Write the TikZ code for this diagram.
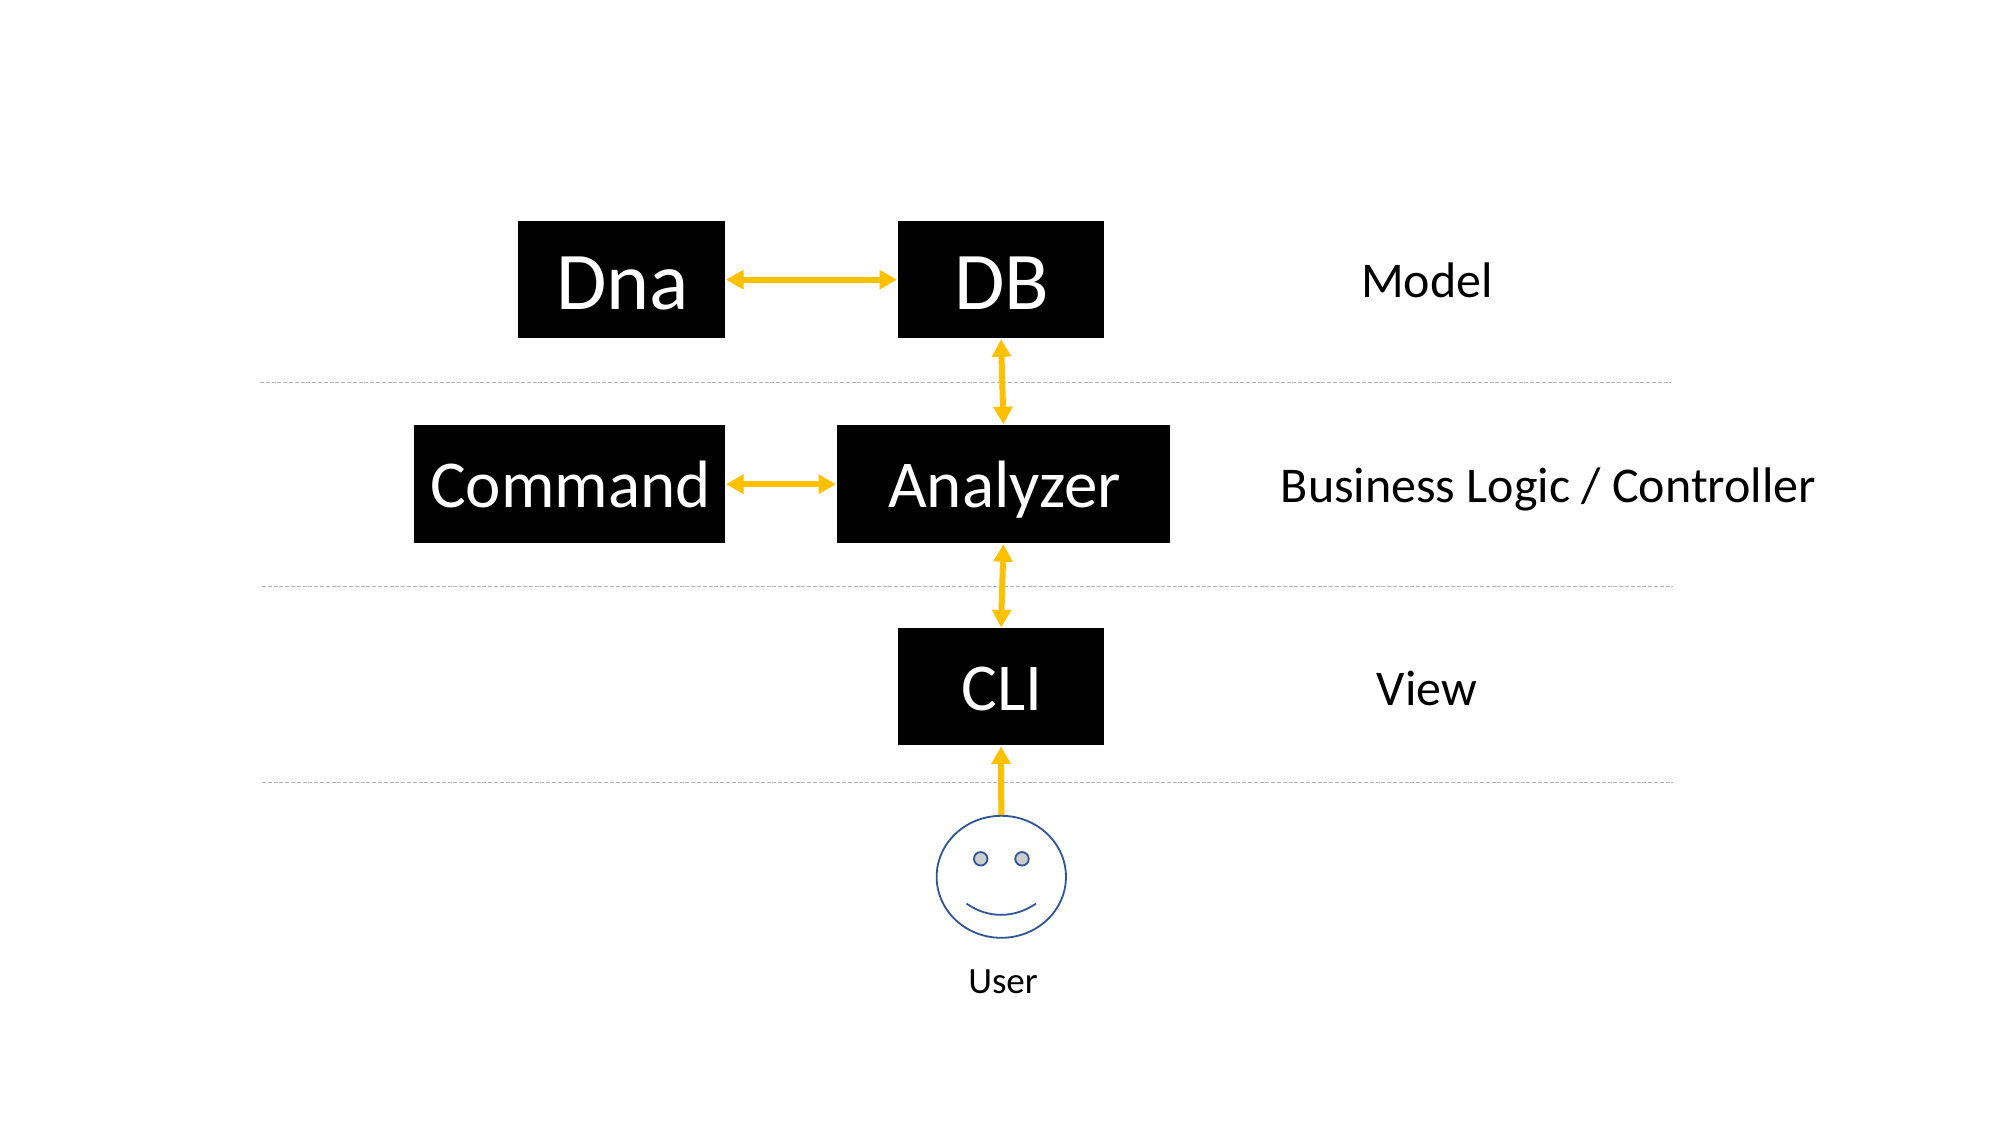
\documentclass[tikz,border=0pt]{standalone}
\usepackage{fontspec}
\setmainfont{Carlito}
\usetikzlibrary{arrows.meta}
\definecolor{gold}{HTML}{FFC000}
\definecolor{faceblue}{HTML}{2F5597}
\definecolor{sep}{HTML}{B4B4B4}
\definecolor{eye}{HTML}{CDCDCD}
\tikzset{
  blk/.style={fill=black,text=white,inner sep=0pt,outer sep=0pt,minimum width=#1,minimum height=117pt,font=\fontsize{67}{70}\selectfont,text height=47pt,text depth=0pt,execute at begin node=\kern2pt},
  blkbig/.style={blk=#1,font=\fontsize{82}{86}\selectfont,text height=59pt},
  link/.style={draw=gold,line width=6pt,{Triangle[length=17.5pt,width=18.5pt]}-{Triangle[length=17.5pt,width=18.5pt]},shorten <=1pt,shorten >=1pt},
  linkone/.style={draw=gold,line width=6pt,-{Triangle[length=17.5pt,width=18.5pt]},shorten >=1pt},
  sepline/.style={draw=sep,line width=1.2pt,dash pattern=on 4pt off 1.8pt},
  layer/.style={inner sep=0pt,anchor=base,font=\fontsize{50}{53}\selectfont,text=black},
  facepart/.style={draw=faceblue,line width=1.8pt},
}
\begin{document}
\begin{tikzpicture}[x=1pt,y=-1pt]
\useasboundingbox (0,0) rectangle (2002,1127);
\fill[white] (0,0) rectangle (2002,1127);
\coordinate (s1a) at (260,382.6); \coordinate (s1b) at (1671,382.6);
\coordinate (s2a) at (262,586.2); \coordinate (s2b) at (1673,586.2);
\coordinate (s3a) at (262,782.6); \coordinate (s3b) at (1673,782.6);
\draw[sepline] (s1a) -- (s1b);
\draw[sepline] (s2a) -- (s2b);
\draw[sepline] (s3a) -- (s3b);
\node[blkbig=207pt] (dna) at (621.5,279.7) {Dna};
\node[blkbig=206pt] (db) at (1001,279.7) {DB};
\node[blk=311pt,minimum height=118pt] (command) at (569.5,484.2) {Command};
\node[blk=333pt,minimum height=118pt] (analyzer) at (1003.5,484.2) {Analyzer};
\node[blk=206pt] (cli) at (1001,686.9) {CLI};
\node[layer] (model) at (1427,297.2) {Model};
\node[layer] (logic) at (1548.5,502.7) {Business Logic / Controller};
\node[layer] (view) at (1427,705) {View};
\node[facepart,fill=white,circle,inner sep=0pt,minimum size=122pt,xscale=1.06] (face) at (1001.3,876.8) {};
\node[facepart,fill=eye,circle,inner sep=0pt,minimum size=13.5pt] (eyeL) at (980.7,858.8) {};
\node[facepart,fill=eye,circle,inner sep=0pt,minimum size=13.5pt] (eyeR) at (1022,858.8) {};
\coordinate (smileL) at (966.5,903.6);
\coordinate (smileR) at (1036,903.6);
\draw[facepart] (smileL) .. controls (988,918.6) and (1014,918.6) .. (smileR);
\node[inner sep=0pt,anchor=base,font=\fontsize{37}{40}\selectfont] (user) at (1003,993.2) {User};
\draw[link] (dna.east) -- (db.west);
\draw[link] (command.east) -- (analyzer.west);
\draw[link] (db.south) -- (analyzer.north);
\draw[link] (analyzer.south) -- (cli.north);
\draw[linkone] (face.north) -- (cli.south);
\end{tikzpicture}
\end{document}
